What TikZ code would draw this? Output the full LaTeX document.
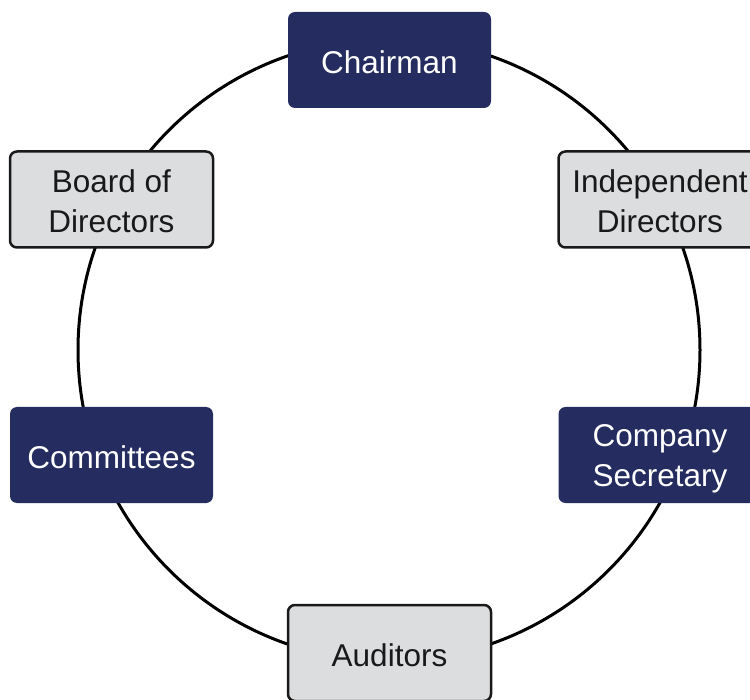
\documentclass[tikz,border=0pt]{standalone}
\usepackage{fontspec}
\setmainfont{Liberation Sans}
\definecolor{navy}{HTML}{252C60}
\definecolor{lightbox}{HTML}{DCDDDF}
\begin{document}
\begin{tikzpicture}[x=1pt,y=-1pt,
  box/.style={rounded corners=7pt, minimum width=203pt, minimum height=96pt, inner sep=0pt},
  darkbox/.style={box, fill=navy},
  lightbox/.style={box, fill=lightbox, draw=black!90, line width=2.5pt},
  lbl/.style={align=center, font=\fontsize{31.5}{40}\selectfont, inner sep=0pt},
  darklbl/.style={lbl, text=white},
  lightlbl/.style={lbl, text=black!90}]
\useasboundingbox (0,0) rectangle (750,700);
\clip (0,0) rectangle (750,700);
\node[draw=black, line width=3pt, circle, minimum size=622pt, inner sep=0pt] (ring) at (389,350) {};
\node[darkbox] (chair) at (389.5,60) {};
\node[lightbox] (board) at (111.5,199.5) {};
\node[lightbox] (indep) at (660,199.5) {};
\node[darkbox] (comm) at (111.5,455) {};
\node[darkbox] (sec) at (660,455) {};
\node[lightbox] (aud) at (389.5,653) {};
\node[darklbl] (chairt) at ([yshift=-2pt]chair.center) {Chairman};
\node[lightlbl] (boardt) at ([yshift=-2pt]board.center) {Board of\\Directors};
\node[lightlbl] (indept) at ([yshift=-2pt]indep.center) {Independent\\Directors};
\node[darklbl] (commt) at ([yshift=-2pt]comm.center) {Committees};
\node[darklbl] (sect) at ([yshift=-4pt]sec.center) {Company\\Secretary};
\node[lightlbl] (audt) at ([yshift=-2pt]aud.center) {Auditors};
\end{tikzpicture}
\end{document}
